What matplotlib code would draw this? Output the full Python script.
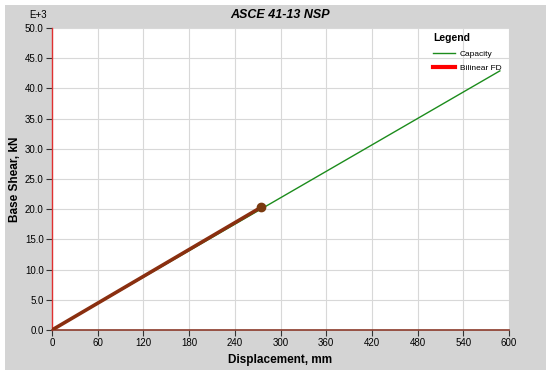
import matplotlib.pyplot as plt
from matplotlib.lines import Line2D
from matplotlib.patches import Rectangle
import numpy as np

plt.rcParams['font.family'] = ['Liberation Sans', 'DejaVu Sans']

# データ (kN, mm)
capacity_disp = [0, 588]
capacity_shear = [0, 42900]
bilinear_disp = [0, 275]
bilinear_shear = [0, 20350]
yield_point = (275, 20350)

x_ticks = np.arange(0, 601, 60)
y_ticks = np.arange(0, 50.1, 5)

fig = plt.figure(figsize=(5.5, 3.77), dpi=100, facecolor='white')
# 灰色の背景枠
fig.patches.append(Rectangle((5 / 550, 1 - 370 / 377), 541 / 550, 365 / 377,
                             transform=fig.transFigure, facecolor='#d4d4d4',
                             edgecolor='none', zorder=-10))
ax = fig.add_axes([52 / 550, 1 - 330 / 377, 457 / 550, 302 / 377])
ax.set_facecolor('white')

ax.plot(capacity_disp, np.array(capacity_shear) / 1000, color='#1c8c1c', lw=1.0, zorder=3)
ax.plot(bilinear_disp, np.array(bilinear_shear) / 1000, color='#8a2f10', lw=2.6, zorder=4,
        solid_capstyle='butt')
ax.plot(yield_point[0], yield_point[1] / 1000, 'o', color='#7a3a10', ms=6, zorder=5)

ax.set_xlim(0, 600)
ax.set_ylim(0, 50)
ax.set_xticks(x_ticks)
ax.set_yticks(y_ticks)
ax.set_yticklabels([f"{v:.1f}" for v in y_ticks])
ax.tick_params(labelsize=7, length=4, width=0.8, color='#333333', pad=2)
ax.grid(True, color='#d8d8d8', lw=0.8)
ax.set_axisbelow(True)

for s in ['top', 'right']:
    ax.spines[s].set_visible(False)
ax.spines['left'].set_color('#e03030')
ax.spines['bottom'].set_color('#8b3a2a')
ax.spines['left'].set_linewidth(1.0)
ax.spines['bottom'].set_linewidth(1.2)

ax.set_xlabel("Displacement, mm", fontsize=8.5, fontweight='bold', labelpad=4)
ax.set_ylabel("Base Shear, kN", fontsize=8.5, fontweight='bold', labelpad=3)
fig.text(0.5 * (52 + 509) / 550, 1 - 15 / 377, "ASCE 41-13 NSP", ha='center', va='center',
         fontsize=9, fontweight='bold', fontstyle='italic')
fig.text(29 / 550, 1 - 15 / 377, "E+3", ha='left', va='center', fontsize=7)

handles = [Line2D([], [], color='#1c8c1c', lw=1.0),
           Line2D([], [], color='#ff0000', lw=3.0)]
leg = ax.legend(handles, ["Capacity", "Bilinear FD"], title="Legend", loc='upper right',
                bbox_to_anchor=(1.0, 1.008), frameon=False, fontsize=6,
                handlelength=2.6, handletextpad=0.6, labelspacing=0.8)
leg.get_title().set_fontsize(7.5)
leg.get_title().set_fontweight('bold')
leg._legend_box.align = 'left'

fig.savefig("out.png", dpi=100, facecolor='white')
